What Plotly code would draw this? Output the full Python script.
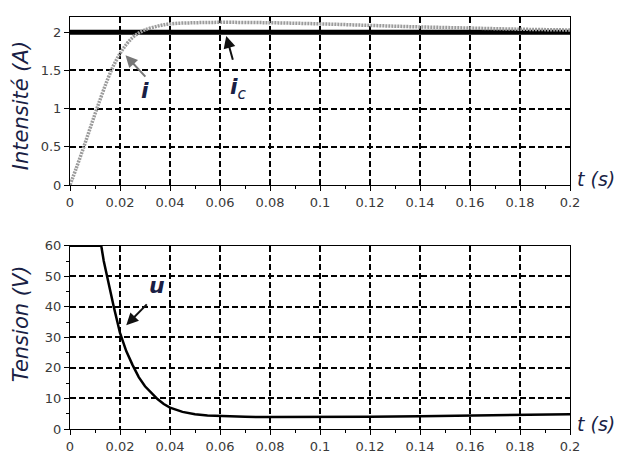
import plotly.graph_objects as go
from plotly.subplots import make_subplots

# Data
t_i = [0, 0.0025, 0.005, 0.0075, 0.01, 0.0125, 0.015, 0.0175, 0.02, 0.0225,
       0.025, 0.0275, 0.03, 0.035, 0.04, 0.05, 0.06, 0.08, 0.1, 0.12, 0.14,
       0.16, 0.18, 0.2]
i_vals = [0, 0.22, 0.45, 0.69, 0.93, 1.16, 1.38, 1.57, 1.72, 1.84,
          1.93, 1.99, 2.03, 2.08, 2.11, 2.125, 2.13, 2.125, 2.11, 2.09, 2.07,
          2.055, 2.04, 2.03]

t_ic = [0, 0.2]
ic_vals = [2.0, 2.0]

t_u = [0, 0.0125, 0.0135, 0.015, 0.0175, 0.02, 0.0225, 0.025, 0.0275, 0.03,
       0.0325, 0.035, 0.0375, 0.04, 0.045, 0.05, 0.055, 0.06, 0.07, 0.08,
       0.1, 0.12, 0.14, 0.16, 0.18, 0.2]
u_vals = [60, 60, 55, 49, 40, 31.5, 25.5, 21, 17, 14,
          11.8, 9.8, 8.2, 7, 5.6, 4.8, 4.4, 4.2, 4.0, 3.9,
          3.9, 4.0, 4.2, 4.4, 4.6, 4.8]

x_ticks = [0, 0.02, 0.04, 0.06, 0.08, 0.1, 0.12, 0.14, 0.16, 0.18, 0.2]
x_ticklabels = ["0", "0.02", "0.04", "0.06", "0.08", "0.1", "0.12", "0.14", "0.16", "0.18", "0.2"]
i_ticks = [0, 0.5, 1, 1.5, 2]
i_ticklabels = ["0", "0.5", "1", "1.5", "2"]
u_ticks = [0, 10, 20, 30, 40, 50, 60]
u_ticklabels = ["0", "10", "20", "30", "40", "50", "60"]

FONT = "DejaVu Sans"
TXT = "#1a1f45"

fig = make_subplots(rows=2, cols=1)

fig.add_trace(go.Scatter(x=t_ic, y=ic_vals, mode="lines",
                         line=dict(color="black", width=5)), row=1, col=1)
fig.add_trace(go.Scatter(x=t_i, y=i_vals, mode="lines", line_shape="spline",
                         line=dict(color="#9c9c9c", width=3.5, dash="2px,1px")),
              row=1, col=1)
fig.add_trace(go.Scatter(x=t_u, y=u_vals, mode="lines",
                         line=dict(color="black", width=2.5)), row=2, col=1)

grid = dict(showgrid=True, gridcolor="black", gridwidth=2, griddash="6px,3px",
            zeroline=False, showline=True, linecolor="black", linewidth=1,
            mirror=True, ticks="outside", ticklen=5, tickcolor="black",
            tickfont=dict(family=FONT, size=13, color="#3a3a3a"))

for r in (1, 2):
    fig.update_xaxes(range=[0, 0.2], tickvals=x_ticks, ticktext=x_ticklabels,
                     minor=dict(dtick=0.01, tick0=0, ticks="outside", ticklen=3,
                                tickcolor="black", showgrid=False),
                     **grid, row=r, col=1)

fig.update_yaxes(range=[0, 2.2], tickvals=i_ticks, ticktext=i_ticklabels,
                 **grid, row=1, col=1)
fig.update_yaxes(range=[0, 60], tickvals=u_ticks, ticktext=u_ticklabels,
                 minor=dict(dtick=5, tick0=0, ticks="outside", ticklen=3,
                            tickcolor="black", showgrid=False),
                 **grid, row=2, col=1)

fig.update_layout(
    width=614, height=448,
    margin=dict(l=62, r=52, t=2, b=21),
    paper_bgcolor="white", plot_bgcolor="white",
    showlegend=False,
    xaxis=dict(domain=[0, 1]), yaxis=dict(domain=[0.5922, 1.0]),
    xaxis2=dict(domain=[0, 1]), yaxis2=dict(domain=[0, 0.4447]),
)

ann = []
common = dict(xanchor="center", yanchor="middle", showarrow=False)
# axis titles
ann.append(dict(text="<i>Intensité (A)</i>", xref="paper", yref="paper",
                x=-0.098, y=0.7835, textangle=-90,
                font=dict(family=FONT, size=21, color=TXT), **common))
ann.append(dict(text="<i>Tension (V)</i>", xref="paper", yref="paper",
                x=-0.098, y=0.254, textangle=-90,
                font=dict(family=FONT, size=21, color=TXT), **common))
ann.append(dict(text="<i>t (s)</i>", xref="paper", yref="paper",
                x=1.051, y=0.607,
                font=dict(family=FONT, size=19, color=TXT), **common))
ann.append(dict(text="<i>t (s)</i>", xref="paper", yref="paper",
                x=1.051, y=0.012,
                font=dict(family=FONT, size=19, color=TXT), **common))
# curve labels
ann.append(dict(text="<b><i>i</i></b>", xref="x", yref="y", x=0.030, y=1.24,
                font=dict(family=FONT, size=22, color=TXT), **common))
ann.append(dict(text="<b><i>i</i></b><sub><i>c</i></sub>",
                xref="x", yref="y", x=0.0672, y=1.27,
                font=dict(family=FONT, size=22, color=TXT), **common))
ann.append(dict(text="<b><i>u</i></b>", xref="x2", yref="y2", x=0.0347, y=47,
                font=dict(family=FONT, size=22, color=TXT), **common))
# arrows
ann.append(dict(text="", xref="x", yref="y", axref="x", ayref="y",
                x=0.0222, y=1.70, ax=0.0307, ay=1.40, showarrow=True,
                arrowhead=2, arrowsize=1.2, arrowwidth=2, arrowcolor="#777"))
ann.append(dict(text="", xref="x", yref="y", axref="x", ayref="y",
                x=0.0625, y=1.95, ax=0.0653, ay=1.62, showarrow=True,
                arrowhead=2, arrowsize=1.2, arrowwidth=2, arrowcolor="#111"))
ann.append(dict(text="", xref="x2", yref="y2", axref="x2", ayref="y2",
                x=0.0225, y=34, ax=0.0313, ay=41.3, showarrow=True,
                arrowhead=2, arrowsize=1.2, arrowwidth=2, arrowcolor="#111"))
fig.update_layout(annotations=ann)

fig.write_html("out.html")
